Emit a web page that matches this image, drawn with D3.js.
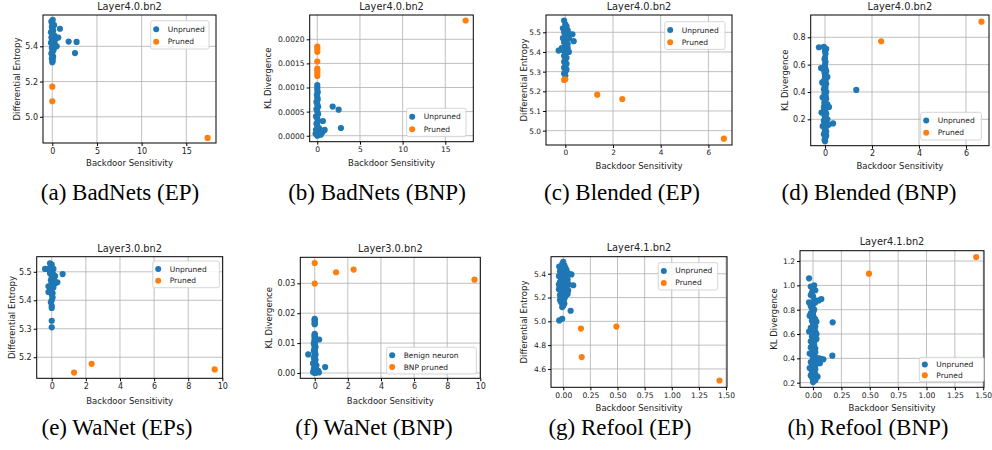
<!DOCTYPE html>
<html>
<head>
<meta charset="utf-8">
<script src="https://cdn.jsdelivr.net/npm/d3@7"></script>
<style>
  body { margin: 0; background: #fff; }
  svg { display: block; }
</style>
</head>
<body>
<div id="chart"></div>
<script>
// Data (x = backdoor sensitivity, y = metric).
const aUnpruned = [[0.0,5.31],[0.05,5.32],[-0.05,5.33],[0.1,5.34],[0.0,5.35],[-0.1,5.36],[0.05,5.37],[0.15,5.38],[-0.05,5.39],[0.2,5.40],[0.0,5.41],[-0.15,5.42],[0.1,5.43],[0.0,5.44],[-0.1,5.45],[0.25,5.46],[0.05,5.47],[-0.15,5.48],[0.1,5.49],[0.0,5.50],[-0.05,5.51],[0.2,5.52],[0.0,5.53],[-0.1,5.54],[0.05,5.55],[0.3,5.41],[0.35,5.44],[0.49,5.40],[0.67,5.45],[0.86,5.50],[1.83,5.427],[2.72,5.425],[2.54,5.362]];
const aPruned = [[0.0,5.171],[0.0,5.088],[17.39,4.88]];

const bUnpruned = [[0.0,0.0],[0.15,0.00002],[-0.2,0.00004],[0.3,0.00005],[0.6,0.00007],[0.86,0.00012],[0.0,0.00008],[-0.15,0.00012],[0.2,0.00016],[0.0,0.0002],[-0.1,0.00025],[0.1,0.0003],[0.66,0.000305],[0.0,0.00035],[-0.15,0.0004],[0.1,0.00045],[0.0,0.0005],[-0.1,0.00055],[0.1,0.0006],[0.0,0.00065],[-0.1,0.0007],[0.05,0.00075],[0.0,0.0008],[-0.05,0.00085],[0.05,0.0009],[0.0,0.00095],[0.0,0.001],[0.0,0.00105],[1.8,0.000604],[2.5,0.00054],[2.77,0.00016],[0.35,0.00008],[0.4,0.00002]];
const bPruned = [[0,0.00185],[0,0.0018],[0,0.00174],[0,0.00154],[0,0.00139],[0,0.00135],[0,0.0013],[0,0.00124],[17.38,0.00239]];

const cUnpruned = [[-0.05,5.56],[0.0,5.54],[-0.1,5.52],[0.05,5.53],[0.1,5.51],[-0.05,5.50],[0.3,5.49],[0.2,5.49],[0.0,5.48],[-0.1,5.47],[0.15,5.47],[0.35,5.455],[0.05,5.46],[-0.05,5.45],[0.1,5.44],[0.0,5.43],[-0.15,5.42],[0.1,5.42],[-0.28,5.407],[-0.1,5.41],[0.05,5.40],[0.15,5.40],[0.0,5.39],[-0.05,5.38],[0.05,5.37],[0.0,5.36],[-0.05,5.35],[0.05,5.34],[0.0,5.33],[-0.05,5.32],[0.05,5.31],[0.0,5.30],[-0.05,5.29],[0.0,5.28]];
const cPruned = [[0,5.261],[-0.05,5.258],[1.34,5.183],[2.39,5.161],[6.65,4.959]];

const dUnpruned = [[-0.26,0.727],[-0.05,0.73],[0.05,0.715],[0.0,0.70],[0.02,0.68],[0.0,0.65],[-0.02,0.64],[0.02,0.62],[0.0,0.60],[0.0,0.585],[-0.17,0.575],[0.02,0.57],[-0.05,0.56],[0.05,0.55],[-0.02,0.54],[0.0,0.53],[0.0,0.515],[0.1,0.51],[0.0,0.50],[0.03,0.49],[-0.05,0.48],[-0.12,0.47],[0.0,0.47],[0.05,0.46],[-0.02,0.45],[0.0,0.44],[0.02,0.43],[-0.05,0.42],[0.0,0.41],[0.05,0.40],[-0.02,0.39],[0.0,0.38],[0.03,0.37],[-0.1,0.36],[0.05,0.35],[0.0,0.345],[0.0,0.33],[-0.03,0.32],[0.1,0.31],[0.02,0.30],[0.17,0.29],[-0.05,0.29],[0.0,0.28],[0.0,0.27],[-0.05,0.26],[0.02,0.255],[-0.15,0.25],[0.05,0.24],[-0.02,0.23],[0.0,0.22],[0.03,0.21],[0.1,0.20],[0.0,0.195],[-0.05,0.19],[-0.02,0.18],[0.0,0.17],[0.34,0.17],[0.15,0.16],[-0.1,0.15],[0.03,0.14],[0.0,0.13],[0.0,0.12],[0.05,0.11],[-0.02,0.10],[-0.05,0.09],[0.05,0.08],[0.02,0.07],[0.0,0.06],[-0.02,0.05],[0.0,0.04],[1.33,0.415]];
const dPruned = [[2.39,0.771],[6.66,0.914]];

const eUnpruned = [[-0.1,5.53],[0.0,5.525],[-0.39,5.51],[-0.25,5.51],[-0.05,5.515],[0.1,5.51],[0.0,5.50],[-0.1,5.495],[0.1,5.49],[0.64,5.492],[0.2,5.485],[0.0,5.48],[-0.05,5.47],[0.15,5.47],[0.33,5.463],[0.2,5.46],[0.0,5.46],[-0.19,5.449],[-0.05,5.45],[0.1,5.445],[0.0,5.44],[-0.1,5.435],[-0.19,5.429],[0.05,5.425],[0.0,5.42],[0.05,5.41],[0.0,5.40],[-0.05,5.393],[0.0,5.38],[0.0,5.373],[0.0,5.328],[0.0,5.305]];
const ePruned = [[1.31,5.146],[2.34,5.177],[9.55,5.157]];

const fUnpruned = [[0.0,0.0181],[0.0,0.0178],[0.0,0.0175],[0.0,0.0169],[0.0,0.0166],[0.0,0.0163],[0.0,0.0131],[0.0,0.0128],[0.0,0.0125],[0.0,0.0122],[0.0,0.0119],[0.05,0.0116],[0.27,0.0112],[0.0,0.0113],[0.0,0.0109],[0.0,0.0106],[0.0,0.0101],[-0.05,0.0099],[0.0,0.0096],[0.0,0.0093],[0.0,0.009],[0.05,0.0087],[0.0,0.0084],[0.0,0.0081],[0.0,0.0078],[-0.05,0.0075],[0.0,0.0072],[0.0,0.0069],[0.0,0.0065],[-0.39,0.0062],[0.05,0.0062],[0.0,0.0059],[0.0,0.0056],[0.0,0.0053],[-0.05,0.005],[0.0,0.0047],[0.05,0.0044],[0.0,0.0041],[0.0,0.0038],[0.0,0.0035],[-0.1,0.0032],[0.0,0.0029],[0.1,0.0026],[0.05,0.0023],[0.0,0.002],[0.63,0.002],[0.0,0.0017],[-0.05,0.0014],[0.1,0.001],[0.2,0.0008],[-0.05,0.0008],[0.0,0.0006],[0.1,0.0004],[-0.1,0.0003],[0.25,0.0002],[0.05,0.0001],[0.0,0.0]];
const fPruned = [[0,0.0368],[0,0.0299],[1.29,0.0337],[2.35,0.0346],[9.65,0.0312]];

const gUnpruned = [[0.0,5.50],[-0.01,5.48],[0.01,5.47],[-0.037,5.46],[-0.02,5.45],[0.02,5.45],[0.0,5.44],[0.03,5.43],[-0.03,5.42],[0.01,5.42],[0.05,5.40],[0.075,5.394],[-0.02,5.40],[0.0,5.39],[-0.04,5.38],[0.03,5.38],[0.01,5.36],[-0.02,5.35],[0.04,5.35],[0.0,5.34],[-0.03,5.33],[0.02,5.32],[0.05,5.31],[-0.04,5.31],[0.092,5.303],[0.0,5.30],[-0.02,5.29],[0.03,5.28],[-0.04,5.27],[0.01,5.27],[0.045,5.26],[-0.02,5.25],[0.0,5.24],[0.04,5.23],[-0.03,5.22],[0.02,5.21],[-0.01,5.20],[0.01,5.19],[-0.03,5.18],[0.0,5.17],[-0.02,5.16],[0.01,5.15],[0.0,5.13],[-0.01,5.12],[0.068,5.089],[-0.01,5.022],[-0.037,5.008]];
const gPruned = [[0.163,4.939],[0.49,4.956],[0.17,4.70],[1.44,4.503]];

const hUnpruned = [[-0.035,1.058],[0.01,1.0],[-0.02,0.99],[0.0,0.97],[0.02,0.96],[-0.01,0.94],[-0.02,0.92],[0.0,0.91],[0.073,0.888],[0.01,0.88],[0.05,0.876],[-0.035,0.86],[0.02,0.86],[0.0,0.84],[-0.02,0.83],[-0.01,0.81],[0.01,0.80],[0.0,0.78],[-0.02,0.77],[0.0,0.76],[-0.03,0.75],[0.01,0.73],[0.02,0.72],[-0.01,0.71],[0.03,0.70],[0.173,0.696],[0.0,0.69],[0.0,0.68],[0.02,0.66],[-0.02,0.65],[0.0,0.63],[-0.035,0.62],[0.02,0.62],[0.01,0.60],[0.03,0.60],[-0.01,0.58],[0.0,0.57],[0.03,0.56],[0.02,0.55],[-0.02,0.54],[0.0,0.53],[0.0,0.52],[0.01,0.51],[-0.01,0.50],[-0.02,0.49],[0.02,0.48],[0.0,0.47],[0.0,0.46],[0.02,0.45],[-0.03,0.44],[-0.01,0.43],[0.01,0.42],[0.17,0.422],[0.0,0.41],[0.04,0.40],[0.05,0.40],[0.07,0.395],[0.091,0.392],[0.0,0.39],[0.03,0.38],[-0.02,0.37],[0.06,0.36],[0.01,0.36],[-0.01,0.35],[0.02,0.34],[0.0,0.33],[-0.03,0.32],[0.02,0.31],[0.0,0.30],[-0.01,0.29],[0.01,0.28],[0.02,0.27],[-0.02,0.26],[0.04,0.249],[-0.01,0.245],[0.0,0.23],[0.02,0.22],[0.0,0.205]];
const hPruned = [[0.493,1.096],[1.438,1.233]];

// Tick values and labels
const ticksX15 = [0, 5, 10, 15];
const ticksX6 = [0, 2, 4, 6];
const ticksX10 = [0, 2, 4, 6, 8, 10];
const ticksX150 = [0, 0.25, 0.5, 0.75, 1.0, 1.25, 1.5];
const ticksYa = [5.0, 5.2, 5.4];
const ticksYb = [0, 0.0005, 0.001, 0.0015, 0.002];
const ticksYc = [5.0, 5.1, 5.2, 5.3, 5.4, 5.5];
const ticksYd = [0.2, 0.4, 0.6, 0.8];
const ticksYe = [5.2, 5.3, 5.4, 5.5];
const ticksYf = [0, 0.01, 0.02, 0.03];
const ticksYg = [4.6, 4.8, 5.0, 5.2, 5.4];
const ticksYh = [0.2, 0.4, 0.6, 0.8, 1.0, 1.2];

const legendDefault = ["Unpruned", "Pruned"];
const legendWaNetBNP = ["Benign neuron", "BNP pruned"];
const captions = ["(a) BadNets (EP)", "(b) BadNets (BNP)", "(c) Blended (EP)", "(d) Blended (BNP)",
                  "(e) WaNet (EPs)", "(f) WaNet (BNP)", "(g) Refool (EP)", "(h) Refool (BNP)"];
const titles = ["Layer4.0.bn2", "Layer4.0.bn2", "Layer4.0.bn2", "Layer4.0.bn2",
                "Layer3.0.bn2", "Layer3.0.bn2", "Layer4.1.bn2", "Layer4.1.bn2"];
const yLabelDE = "Differential Entropy";
const yLabelKL = "KL Divergence";
const xLabel = "Backdoor Sensitivity";

// Layout per panel (axes box in px, domains, label positions)
const panels = [
  {box: [43, 15, 216, 143], xd: [-1.04, 18.33], yd: [4.851, 5.578], xt: ticksX15, yt: ticksYa, xf: "d", yf: ".1f",
   yl: yLabelDE, un: aUnpruned, pr: aPruned, lg: legendDefault, lb: [150.7, 20.7, 58.3, 28.3],
   ty: 10, xly: 163, ylx: 17, cx: 120, cy: 200, tf: 8},
  {box: [309.7, 15, 473.3, 141.7], xd: [-0.89, 18.28], yd: [-0.000124, 0.002504], xt: ticksX15, yt: ticksYb, xf: "d", yf: ".4f",
   yl: yLabelKL, un: bUnpruned, pr: bPruned, lg: legendDefault, lb: [406.7, 108.3, 59.3, 28.3],
   ty: 10, xly: 163, ylx: 268, cx: 377, cy: 200, tf: 7.6},
  {box: [546, 15, 732, 145], xd: [-0.81, 6.99], yd: [4.927, 5.588], xt: ticksX6, yt: ticksYc, xf: "d", yf: ".1f",
   yl: yLabelDE, un: cUnpruned, pr: cPruned, lg: legendDefault, lb: [664.7, 21.7, 60.3, 27.7],
   ty: 10, xly: 165.7, ylx: 523.5, cx: 622, cy: 200, tf: 7.4},
  {box: [810.7, 15, 989, 145.7], xd: [-0.61, 6.98], yd: [0.007, 0.963], xt: ticksX6, yt: ticksYd, xf: "d", yf: ".1f",
   yl: yLabelKL, un: dUnpruned, pr: dPruned, lg: legendDefault, lb: [920.7, 112.3, 60.7, 27.7],
   ty: 10, xly: 166, ylx: 784.7, cx: 869, cy: 200, tf: 8},
  {box: [36.7, 256.7, 222.7, 378.3], xd: [-0.88, 10.02], yd: [5.126, 5.553], xt: ticksX10, yt: ticksYe, xf: "d", yf: ".1f",
   yl: yLabelDE, un: eUnpruned, pr: ePruned, lg: legendDefault, lb: [152.7, 261, 66.7, 26.7],
   ty: 252, xly: 401, ylx: 11.7, cx: 117, cy: 435, tf: 8},
  {box: [300.3, 257.3, 480.3, 378.3], xd: [-0.87, 10.0], yd: [-0.00177, 0.0387], xt: ticksX10, yt: ticksYf, xf: "d", yf: ".2f",
   yl: yLabelKL, un: fUnpruned, pr: fPruned, lg: legendWaNetBNP, lb: [386.7, 347.3, 89.6, 26.7],
   ty: 252, xly: 401, ylx: 268.7, cx: 374, cy: 435, tf: 8},
  {box: [551, 256.7, 727, 387.3], xd: [-0.113, 1.509], yd: [4.446, 5.543], xt: ticksX150, yt: ticksYg, xf: ".2f", yf: ".1f",
   yl: yLabelDE, un: gUnpruned, pr: gPruned, lg: legendDefault, lb: [658.3, 262.7, 59.4, 27.3],
   ty: 251, xly: 407.5, ylx: 524.3, cx: 620, cy: 435, tf: 7.6},
  {box: [800, 250.7, 984, 387.3], xd: [-0.115, 1.507], yd: [0.162, 1.285], xt: ticksX150, yt: ticksYh, xf: ".2f", yf: ".1f",
   yl: yLabelKL, un: hUnpruned, pr: hPruned, lg: legendDefault, lb: [919.3, 357.3, 64.7, 24.4],
   ty: 245, xly: 407.5, ylx: 774, cx: 868, cy: 435, tf: 7.6}
];

const blue = "#1f77b4";
const orange = "#ff7f0e";
const sans = "DejaVu Sans, sans-serif";

const svg = d3.select("#chart").append("svg")
    .attr("width", 992)
    .attr("height", 450)
    .attr("viewBox", [0, 0, 992, 450]);

panels.forEach((p, i) => {
    const [x0, y0, x1, y1] = p.box;
    const x = d3.scaleLinear().domain(p.xd).range([x0, x1]);
    const y = d3.scaleLinear().domain(p.yd).range([y1, y0]);
    const g = svg.append("g");

    // Grid lines
    g.append("g").selectAll("line").data(p.xt).join("line")
        .attr("x1", d => x(d)).attr("x2", d => x(d))
        .attr("y1", y0).attr("y2", y1)
        .attr("stroke", "#b0b0b0").attr("stroke-width", 0.8);
    g.append("g").selectAll("line").data(p.yt).join("line")
        .attr("x1", x0).attr("x2", x1)
        .attr("y1", d => y(d)).attr("y2", d => y(d))
        .attr("stroke", "#b0b0b0").attr("stroke-width", 0.8);

    // Axes
    g.append("g")
        .attr("transform", `translate(0,${y1})`)
        .call(d3.axisBottom(x).tickValues(p.xt).tickFormat(d3.format(p.xf)).tickSize(3).tickPadding(2).tickSizeOuter(0))
        .call(a => a.select(".domain").remove())
        .call(a => a.selectAll("text").attr("font-size", p.tf).attr("font-family", sans).attr("fill", "#222"));
    g.append("g")
        .attr("transform", `translate(${x0},0)`)
        .call(d3.axisLeft(y).tickValues(p.yt).tickFormat(d3.format(p.yf)).tickSize(3).tickPadding(2).tickSizeOuter(0))
        .call(a => a.select(".domain").remove())
        .call(a => a.selectAll("text").attr("font-size", p.tf).attr("font-family", sans).attr("fill", "#222"));

    // Points, clipped to the axes box
    const clipId = `clip-${i}`;
    svg.append("clipPath").attr("id", clipId)
        .append("rect").attr("x", x0).attr("y", y0).attr("width", x1 - x0).attr("height", y1 - y0);
    const pts = g.append("g").attr("clip-path", `url(#${clipId})`);
    pts.selectAll(".u").data(p.un).join("circle")
        .attr("cx", d => x(d[0])).attr("cy", d => y(d[1])).attr("r", 3.1)
        .attr("fill", blue);
    pts.selectAll(".p").data(p.pr).join("circle")
        .attr("cx", d => x(d[0])).attr("cy", d => y(d[1])).attr("r", 3.1)
        .attr("fill", orange);

    // Frame
    g.append("rect")
        .attr("x", x0).attr("y", y0).attr("width", x1 - x0).attr("height", y1 - y0)
        .attr("fill", "none").attr("stroke", "#000").attr("stroke-width", 1);

    // Title and axis labels
    g.append("text")
        .attr("x", (x0 + x1) / 2).attr("y", p.ty)
        .attr("text-anchor", "middle")
        .attr("font-family", sans).attr("font-size", 9.8).attr("fill", "#222")
        .text(titles[i]);
    g.append("text")
        .attr("x", (x0 + x1) / 2).attr("y", p.xly)
        .attr("text-anchor", "middle").attr("dominant-baseline", "central")
        .attr("font-family", sans).attr("font-size", 8.5).attr("fill", "#222")
        .text(xLabel);
    g.append("text")
        .attr("transform", `translate(${p.ylx},${(y0 + y1) / 2}) rotate(-90)`)
        .attr("text-anchor", "middle").attr("dominant-baseline", "central")
        .attr("font-family", sans).attr("font-size", 8.5).attr("fill", "#222")
        .text(p.yl);

    // Legend
    const [lx, ly, lw, lh] = p.lb;
    const leg = g.append("g");
    leg.append("rect")
        .attr("x", lx).attr("y", ly).attr("width", lw).attr("height", lh).attr("rx", 2)
        .attr("fill", "#fff").attr("fill-opacity", 0.85)
        .attr("stroke", "#cccccc").attr("stroke-width", 0.8);
    p.lg.forEach((label, k) => {
        const cy = ly + lh * (k === 0 ? 0.3 : 0.74);
        leg.append("circle")
            .attr("cx", lx + 5.5).attr("cy", cy).attr("r", 3)
            .attr("fill", k === 0 ? blue : orange);
        leg.append("text")
            .attr("x", lx + 17).attr("y", cy)
            .attr("dominant-baseline", "central")
            .attr("font-family", sans).attr("font-size", 7.5).attr("fill", "#222")
            .text(label);
    });

    // Sub-figure caption
    svg.append("text")
        .attr("x", p.cx).attr("y", p.cy)
        .attr("text-anchor", "middle")
        .attr("font-family", "Liberation Serif, Times New Roman, serif")
        .attr("font-size", 23)
        .attr("fill", "#000")
        .text(captions[i]);
});
</script>
</body>
</html>
